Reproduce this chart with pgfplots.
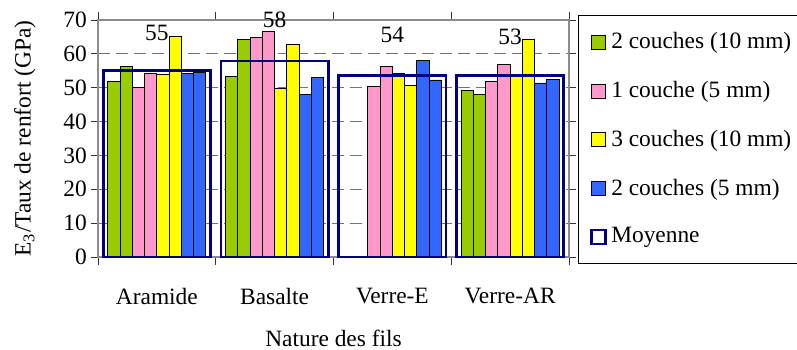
\documentclass[border=0pt]{standalone}
\usepackage{fontspec}
\setmainfont{Liberation Serif}
\usepackage{pgfplots}
\pgfplotsset{compat=1.18}

\definecolor{cvert}{HTML}{99CC00}
\definecolor{crose}{HTML}{FF99CC}
\definecolor{cjaune}{HTML}{FFFF00}
\definecolor{cbleu}{HTML}{3366FF}
\definecolor{cnavy}{HTML}{000080}

\pgfplotsset{
  barre/.style={ybar, bar width=0.104, draw=black, line width=0.4pt},
  sq legend/.style={legend image code/.code={\draw[##1] (0pt,-3.5pt) rectangle (7pt,3.5pt);}},
}

\begin{document}
\fontsize{11.7}{14}\selectfont
\begin{tikzpicture}
\useasboundingbox (-49pt,-46pt) rectangle (349.5pt,128.5pt);
\begin{axis}[
  at={(0,0)}, anchor=south west,
  scale only axis, width=235.5pt, height=118.5pt,
  xmin=-0.5, xmax=3.5, ymin=0, ymax=70,
  clip=false,
  ytick={0,10,...,70},
  xtick={0,1,2,3},
  xticklabels={Aramide,Basalte,Verre-E,Verre-AR},
  minor xtick={-0.5,0.5,1.5,2.5,3.5},
  major x tick style={draw=none},
  tick align=outside,
  major tick length=3.5pt, minor tick length=4pt,
  tick style={black!80, line width=0.5pt},
  axis line style={black!45, line width=0.6pt},
  ymajorgrids,
  major grid style={black!55, line width=0.5pt, dash pattern=on 6pt off 3pt},
  /pgf/number format/assume math mode=true,
  xticklabel style={yshift=-8pt},
  yticklabel style={xshift=2pt},
  xlabel={Nature des fils},
  xlabel style={at={(axis description cs:0.5,-0.342)}, anchor=center},
  ylabel={E\textsubscript{3}/Taux de renfort (GPa)},
  ylabel style={at={(axis description cs:-0.155,0.5)}, anchor=center, rotate=0},
  legend style={at={(1.019,1.021)}, anchor=north west, draw=black,
    line width=0.5pt, inner xsep=6pt, inner ysep=6.5pt, row sep=10.5pt,
    nodes={inner sep=2pt}},
  legend cell align=left,
]
% 2 couches (10 mm)
\addplot[barre, bar shift=-0.364, fill=cvert, sq legend] coordinates {(0,51.8) (1,53.3) (3,49.3)};
\addlegendentry{2 couches (10 mm)}
\addplot[barre, bar shift=-0.260, fill=cvert, forget plot] coordinates {(0,56.2) (1,64.3) (3,48.1)};
% 1 couche (5 mm)
\addplot[barre, bar shift=-0.156, fill=crose, sq legend] coordinates {(0,50.0) (1,64.9) (2,50.3) (3,52.0)};
\addlegendentry{1 couche (5 mm)}
\addplot[barre, bar shift=-0.052, fill=crose, forget plot] coordinates {(0,54.2) (1,66.7) (2,56.4) (3,56.9)};
% 3 couches (10 mm)
\addplot[barre, bar shift=0.052, fill=cjaune, sq legend] coordinates {(0,53.9) (1,49.8) (2,54.3) (3,53.4)};
\addlegendentry{3 couches (10 mm)}
\addplot[barre, bar shift=0.156, fill=cjaune, forget plot] coordinates {(0,65.1) (1,62.8) (2,50.6) (3,64.3)};
% 2 couches (5 mm)
\addplot[barre, bar shift=0.260, fill=cbleu, sq legend] coordinates {(0,54.2) (1,48.1) (2,58.0) (3,51.4)};
\addlegendentry{2 couches (5 mm)}
\addplot[barre, bar shift=0.364, fill=cbleu, forget plot] coordinates {(0,54.5) (1,53.0) (2,52.3) (3,52.5)};
% moyenne
\addplot[ybar, bar width=0.91, bar shift=0, draw=cnavy, fill=none, line width=1.4pt, sq legend] coordinates {(0,55.0) (1,57.9) (2,53.65) (3,53.5)};
\addlegendentry{Moyenne}
% etiquettes des moyennes
\addplot[draw=none, forget plot, nodes near coords, point meta=explicit symbolic,
  every node near coord/.append style={anchor=center}]
  coordinates {(0,66.2)[55] (1,70.0)[58] (2,65.6)[54] (3,65.0)[53]};
\end{axis}
\end{tikzpicture}
\end{document}
